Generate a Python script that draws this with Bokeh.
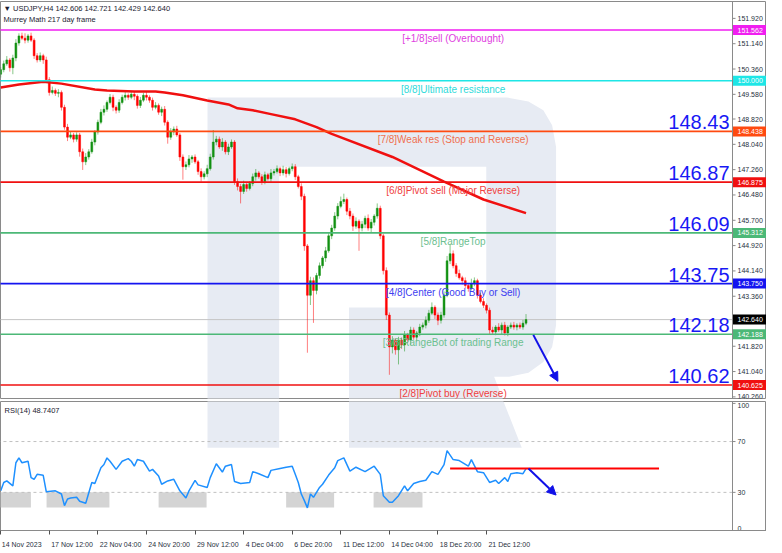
from bokeh.plotting import figure
from bokeh.models import (Range1d, FixedTicker, Label, LabelSet, Arrow, NormalHead,
                          ColumnDataSource, Span, LinearAxis)
from bokeh.layouts import column
from bokeh.embed import file_html
from bokeh.resources import INLINE
from bokeh.core.properties import value

FONT = "Liberation Sans"

# ---------------- data ----------------
first_open = 150.20
close = [
    150.34, 150.52, 150.64, 150.40, 150.70, 151.16, 151.38, 151.31, 151.25, 151.38,
    151.25, 150.77, 150.64, 150.77, 150.64, 150.03, 149.64, 149.70, 149.61, 149.64,
    149.18, 148.57, 148.26, 148.33, 148.20, 148.33, 147.81, 147.50, 147.65, 147.81,
    148.11, 148.42, 148.72, 149.03, 149.12, 149.33, 149.49, 149.18, 149.09, 149.33,
    149.49, 149.55, 149.49, 149.58, 149.52, 149.24, 149.40, 149.55, 149.49, 149.40,
    149.18, 149.24, 149.03, 149.12, 148.72, 148.26, 148.42, 148.51, 148.33, 147.65,
    147.35, 147.41, 147.59, 147.65, 147.50, 147.20, 147.04, 147.13, 147.29, 147.65,
    148.11, 148.20, 147.96, 148.11, 147.81, 147.96, 148.11, 146.89, 146.74, 146.59,
    146.80, 146.68, 146.83, 147.04, 147.16, 147.04, 146.89, 147.10, 146.98, 147.16,
    147.20, 147.29, 147.16, 147.26, 147.14, 147.29, 147.35, 147.04, 146.74, 146.44,
    144.91, 143.39, 143.84, 143.54, 144.00, 144.30, 144.54, 144.76, 145.22, 145.46,
    145.83, 146.13, 146.28, 146.34, 145.98, 145.83, 145.52, 145.67, 145.46, 145.58,
    145.76, 145.46, 145.64, 145.83, 146.07, 145.22, 144.15, 142.78, 141.80, 142.01,
    141.71, 142.01, 141.86, 142.17, 142.01, 142.32, 142.10, 142.23, 142.41, 142.47,
    142.62, 142.84, 143.02, 142.78, 142.62, 142.78, 143.39, 144.45, 144.67, 144.30,
    144.06, 143.93, 143.84, 143.69, 143.60, 143.75, 143.84, 143.39, 143.20, 143.08,
    142.93, 142.32, 142.26, 142.41, 142.32, 142.47, 142.23, 142.41, 142.47, 142.41,
    142.47, 142.41, 142.53, 142.64,
]
upper_wick = [
    0.08, 0.10, 0.12, 0.06, 0.10, 0.12, 0.08, 0.10, 0.15, 0.06,
    0.10, 0.06, 0.08, 0.10, 0.06, 0.10, 0.08, 0.12, 0.06, 0.10,
    0.06, 0.08, 0.10, 0.12, 0.06, 0.08, 0.06, 0.10, 0.12, 0.08,
    0.10, 0.06, 0.08, 0.10, 0.12, 0.06, 0.10, 0.08, 0.06, 0.10,
    0.08, 0.12, 0.06, 0.10, 0.08, 0.06, 0.10, 0.08, 0.12, 0.06,
    0.08, 0.10, 0.06, 0.08, 0.10, 0.06, 0.12, 0.08, 0.10, 0.06,
    0.08, 0.10, 0.12, 0.06, 0.08, 0.06, 0.10, 0.08, 0.12, 0.10,
    0.37, 0.10, 0.08, 0.12, 0.06, 0.10, 0.08, 0.06, 0.10, 0.08,
    0.12, 0.06, 0.08, 0.10, 0.12, 0.06, 0.08, 0.10, 0.06, 0.12,
    0.08, 0.10, 0.06, 0.12, 0.08, 0.06, 0.10, 0.08, 0.06, 0.10,
    0.08, 0.06, 0.12, 0.10, 0.08, 0.10, 0.06, 0.12, 0.08, 0.10,
    0.12, 0.10, 0.15, 0.18, 0.06, 0.10, 0.08, 0.12, 0.06, 0.10,
    0.08, 0.12, 0.10, 0.06, 0.15, 0.08, 0.06, 0.10, 0.08, 0.12,
    0.06, 0.10, 0.08, 0.12, 0.06, 0.10, 0.08, 0.06, 0.10, 0.08,
    0.12, 0.10, 0.15, 0.06, 0.08, 0.10, 0.12, 0.15, 0.30, 0.10,
    0.08, 0.12, 0.06, 0.10, 0.08, 0.15, 0.10, 0.06, 0.08, 0.10,
    0.06, 0.08, 0.10, 0.06, 0.12, 0.08, 0.10, 0.06, 0.08, 0.10,
    0.06, 0.08, 0.10, 0.17,
]
lower_wick = [
    0.10, 0.08, 0.06, 0.12, 0.20, 0.10, 0.08, 0.06, 0.10, 0.08,
    0.06, 0.10, 0.08, 0.06, 0.12, 0.08, 0.10, 0.06, 0.08, 0.12,
    0.10, 0.08, 0.12, 0.06, 0.10, 0.08, 0.15, 0.25, 0.10, 0.08,
    0.06, 0.10, 0.08, 0.06, 0.10, 0.08, 0.06, 0.12, 0.10, 0.08,
    0.06, 0.10, 0.08, 0.06, 0.12, 0.10, 0.08, 0.06, 0.10, 0.08,
    0.10, 0.06, 0.08, 0.12, 0.10, 0.20, 0.08, 0.10, 0.06, 0.12,
    0.40, 0.10, 0.08, 0.12, 0.06, 0.10, 0.15, 0.08, 0.10, 0.06,
    0.08, 0.10, 0.06, 0.12, 0.08, 0.10, 0.06, 0.10, 0.12, 0.37,
    0.08, 0.10, 0.06, 0.08, 0.12, 0.06, 0.10, 0.08, 0.06, 0.10,
    0.08, 0.06, 0.10, 0.08, 0.12, 0.06, 0.08, 0.10, 0.06, 0.12,
    0.15, 1.77, 0.30, 1.00, 0.12, 0.10, 0.08, 0.12, 0.06, 0.10,
    0.08, 0.10, 0.06, 0.08, 0.12, 0.10, 0.15, 0.08, 0.70, 0.10,
    0.12, 0.08, 0.15, 0.10, 0.08, 0.10, 0.12, 0.15, 0.86, 0.20,
    0.15, 0.45, 0.12, 0.20, 0.10, 0.15, 0.08, 0.12, 0.10, 0.08,
    0.10, 0.08, 0.06, 0.12, 0.15, 0.10, 0.08, 0.06, 0.10, 0.08,
    0.10, 0.06, 0.12, 0.08, 0.10, 0.06, 0.08, 0.10, 0.06, 0.08,
    0.10, 0.12, 0.08, 0.10, 0.06, 0.15, 0.08, 0.10, 0.06, 0.08,
    0.10, 0.06, 0.08, 0.06,
]

ma_bar = [0, 6, 14, 20, 31, 35, 44, 51, 54, 60, 68, 75, 78, 83, 89, 97, 104, 109, 129, 146, 159, 173]
ma_val = [149.79, 149.88, 149.97, 149.91, 149.73, 149.70, 149.67, 149.67, 149.64, 149.55, 149.39,
          149.27, 149.15, 149.09, 148.97, 148.81, 148.57, 148.36, 147.65, 146.89, 146.34, 145.92]

rsi_bar = [0, 1, 2, 4, 5, 6, 7, 9, 10, 11, 12, 14, 15, 18, 20, 21, 22, 23, 25, 26,
           28, 30, 31, 33, 34, 35, 36, 38, 40, 42, 43, 44, 45, 47, 49, 50, 52, 53, 55, 57,
           59, 61, 62, 64, 65, 68, 69, 71, 73, 74, 76, 77, 79, 82, 83, 85, 88, 89, 92, 94,
           96, 97, 98, 99, 100, 101, 102, 103, 105, 106, 108, 110, 111, 113, 115, 117, 120, 123, 125, 126,
           128, 129, 131, 133, 134, 136, 138, 140, 142, 144, 146, 147, 149, 151, 154, 155, 157, 159, 161, 163,
           164, 166, 167, 168, 170, 172, 173]
rsi_val = [31.2, 37.8, 39.0, 35.1, 53.3, 57.1, 53.3, 54.5, 41.6, 40.3, 44.2, 43.4, 30.5, 31.2, 28.7, 19.6, 24.8, 25.6, 26.1, 23.0,
           21.5, 37.8, 37.0, 49.4, 51.9, 57.1, 54.5, 48.1, 54.5, 56.6, 54.5, 50.6, 55.8, 54.5, 46.7, 48.1, 42.9, 36.4, 39.0, 40.3,
           31.2, 25.6, 31.2, 39.5, 35.9, 33.9, 41.6, 52.5, 46.0, 50.6, 51.9, 38.5, 37.0, 37.8, 46.3, 44.7, 41.6, 47.3, 48.8, 49.8,
           50.6, 44.2, 37.8, 28.7, 23.5, 17.8, 28.7, 26.1, 33.9, 36.4, 43.6, 49.4, 55.0, 57.1, 46.7, 49.8, 46.3, 50.6, 44.2, 27.4,
           22.2, 22.2, 27.4, 35.1, 31.2, 37.0, 38.5, 39.5, 46.3, 44.2, 51.9, 62.8, 55.8, 55.0, 50.6, 55.8, 46.3, 45.5, 37.8, 39.5,
           37.0, 41.6, 38.5, 44.7, 45.5, 44.7, 48.74]

level_names = ["[+1/8]sell (Overbought)", "[8/8]Ultimate resistance", "[7/8]Weak res (Stop and Reverse)",
               "[6/8]Pivot sell (Major Reverse)", "[5/8]RangeTop", "[4/8]Center (Good Buy or Sell)",
               "[3/8]RangeBot of trading Range", "[2/8]Pivot buy (Reverse)"]
level_values = [151.562, 150.000, 148.438, 146.875, 145.312, 143.750, 142.188, 140.625]
level_colors = ["#f01ef0", "#1ee6e6", "#ff4a10", "#f01010", "#4cb877", "#1414f0", "#4cb877", "#f01010"]
level_text_colors = ["#e040e0", "#30dada", "#f07050", "#f04040", "#6cc090", "#4040f0", "#6cc090", "#f04040"]

target_text = ["148.43", "146.87", "146.09", "143.75", "142.18", "140.62"]
target_level = [148.438, 146.875, 145.312, 143.750, 142.188, 140.625]
last_price = 142.640

price_ticks = [151.920, 151.140, 150.360, 149.580, 148.820, 148.040, 147.260, 146.480,
               145.700, 144.920, 144.140, 143.360, 141.820, 141.040, 140.260]
time_tick_bars = [0, 16, 32, 48, 64, 80, 96, 112, 128, 144, 160]
time_tick_labels = ["14 Nov 2023", "17 Nov 12:00", "22 Nov 04:00", "24 Nov 20:00", "29 Nov 12:00",
                    "4 Dec 04:00", "6 Dec 20:00", "11 Dec 12:00", "14 Dec 04:00", "18 Dec 20:00", "21 Dec 12:00"]
rsi_ticks = [0, 30, 70, 100]
rsi_levels = [30, 70]
rsi_box_start = [-0.1, 15.1, 52.0, 94.0, 122.8]
rsi_box_end = [9.95, 35.8, 67.8, 109.8, 138.9]
rsi_box_top, rsi_box_bottom = 30.0, 18.0
rsi_now = 48.74
rsi_line_start, rsi_line_end = 148.0, 216.8
price_arrow = [175.4, 142.17, 183.5, 140.74]
rsi_arrow = [173.8, 48.74, 182.9, 27.9]

# watermark ("R" logo) outline, in bar units and in each panel's value units
wm_x = [68.1, 166.7, 173.8, 178.7, 181.6, 182.9, 182.9, 181.6, 178.7, 173.8, 167.4, 162.5,
        171.6, 114.7, 114.7, 159.9, 159.9, 91.7, 91.7, 68.1]
wm_y_price = [149.484, 149.484, 149.361, 149.087, 148.629, 147.958, 142.465, 141.794, 141.336,
              141.000, 140.878, 140.878, 138.70, 138.70, 143.014, 143.014, 147.347, 147.347,
              138.70, 138.70]
wm_y_rsi = [338.8, 338.8, 335.6, 328.7, 317.1, 300.0, 160.4, 143.4, 131.8, 123.3, 120.2, 120.2,
            65.1, 65.1, 174.4, 174.4, 284.5, 284.5, 65.1, 65.1]

# ---------------- layout constants ----------------
BULL, BEAR = "#129112", "#ff0000"
WM = "#e7ebf3"
AXC = "#8a8a8a"
LBL = "#283040"
W = 766
CHART_PX = 732
X0 = -0.07
CHART_END = 241.0
PXB = CHART_PX / (CHART_END - X0)
XR_END = CHART_END + (W - CHART_PX) / PXB
BOXC = (CHART_END + XR_END) / 2
BOXW = XR_END - CHART_END
MH, RH = 397, 129

# ---------------- candles ----------------
n = len(close)
bars = list(range(n))
opens = [first_open] + close[:-1]
highs = [max(o, c) + w for o, c, w in zip(opens, close, upper_wick)]
lows = [min(o, c) - w for o, c, w in zip(opens, close, lower_wick)]
cols = [BULL if c >= o else BEAR for o, c in zip(opens, close)]
btop = [max(o, c) for o, c in zip(opens, close)]
bbot = [min(o, c) for o, c in zip(opens, close)]
btop = [t if t - b > 0.02 else b + 0.02 for t, b in zip(btop, bbot)]
src = ColumnDataSource(dict(x=bars, hi=highs, lo=lows, top=btop, bot=bbot, c=cols))

xr = Range1d(X0, XR_END)

p = figure(frame_width=W, frame_height=MH, x_range=xr, y_range=Range1d(140.21, 152.44),
           output_backend="svg", toolbar_location=None, x_axis_location=None,
           y_axis_location=None, min_border_left=0, min_border_right=0,
           min_border_top=1, min_border_bottom=1)
p.xgrid.visible = False
p.ygrid.visible = False
p.outline_line_color = AXC
p.background_fill_color = "white"

p.patch(wm_x, wm_y_price, fill_color=WM, line_color=None, level="underlay")

p.segment(x0=[X0 - 1], y0=[last_price], x1=[CHART_END], y1=[last_price], line_color="#c4c4c4", line_width=1)

p.segment(x0="x", y0="lo", x1="x", y1="hi", line_color="c", line_alpha=0.5, line_width=1, source=src)
p.vbar(x="x", width=0.62, top="top", bottom="bot", fill_color="c", line_color="c", line_width=0.5, source=src)

p.line(ma_bar, ma_val, line_color="#f01010", line_width=2.5)

nl = len(level_values)
p.segment(x0=[X0 - 1] * nl, y0=level_values, x1=[CHART_END] * nl, y1=level_values,
          line_color=level_colors, line_width=1.6)

lsrc = ColumnDataSource(dict(x=[149.0] * nl, y=level_values, t=level_names, c=level_text_colors))
p.add_layout(LabelSet(x="x", y="y", text="t", source=lsrc, text_color="c", text_align="center",
                      text_baseline="top", y_offset=-3, text_font=value(FONT), text_font_size="10px"))

for t, lv in zip(target_text, target_level):
    p.add_layout(Label(x=CHART_END, y=lv, text=t, text_align="right", text_baseline="bottom",
                       x_offset=-3, y_offset=2, text_color="#1818f5", text_font=FONT,
                       text_font_size="20px"))

p.add_layout(Arrow(end=NormalHead(size=9, fill_color="#1010e8", line_color="#1010e8"),
                   x_start=price_arrow[0], y_start=price_arrow[1], x_end=price_arrow[2], y_end=price_arrow[3],
                   line_color="#1010e8", line_width=2))

# price scale drawn in the right strip
nt = len(price_ticks)
p.segment(x0=[CHART_END] * nt, y0=price_ticks, x1=[CHART_END + 3 / PXB] * nt, y1=price_ticks,
          line_color=AXC, line_width=1)
p.text(x=[CHART_END] * nt, y=price_ticks, text=[f"{v:.3f}" for v in price_ticks], x_offset=5,
       text_align="left", text_baseline="middle", text_font=value(FONT), text_font_size="7px",
       text_color=LBL)
box_vals = level_values + [last_price]
box_cols = level_colors + ["#000000"]
p.rect(x=[BOXC] * len(box_vals), y=box_vals, width=BOXW, height=10, height_units="screen",
       fill_color=box_cols, line_color=None)
p.text(x=[CHART_END] * len(box_vals), y=box_vals, text=[f"{v:.3f}" for v in box_vals], x_offset=5,
       text_align="left", text_baseline="middle", text_font=value(FONT), text_font_size="7px",
       text_color="white")
p.add_layout(Span(location=CHART_END, dimension="height", line_color=AXC, line_width=1))

p.add_layout(Label(x=3, y=MH - 2, x_units="screen", y_units="screen",
                   text="\u25bc USDJPY,H4  142.606 142.721 142.429 142.640", text_baseline="top",
                   text_font=FONT, text_font_size="7.5px", text_color="#1a1a30"))
p.add_layout(Label(x=3, y=MH - 13, x_units="screen", y_units="screen",
                   text="Murrey Math 217 day frame", text_baseline="top",
                   text_font=FONT, text_font_size="7.5px", text_color="#1a1a30"))

# ---------------- RSI panel ----------------
r = figure(frame_width=W, frame_height=RH, x_range=xr, y_range=Range1d(0, 101.5),
           output_backend="svg", toolbar_location=None, y_axis_location=None,
           x_axis_location="below", min_border_left=0, min_border_right=0,
           min_border_top=2, min_border_bottom=0)
r.xgrid.visible = False
r.ygrid.visible = False
r.outline_line_color = AXC

r.patch(wm_x, wm_y_rsi, fill_color=WM, line_color=None, level="underlay")

r.quad(left=rsi_box_start, right=rsi_box_end, top=[rsi_box_top] * len(rsi_box_start),
       bottom=[rsi_box_bottom] * len(rsi_box_start), fill_color="#d4d4d4", line_color=None)
r.segment(x0=[X0 - 1] * len(rsi_levels), y0=rsi_levels, x1=[CHART_END] * len(rsi_levels), y1=rsi_levels,
          line_color="#c0c0c0", line_dash="3 3", line_width=1)

r.line(rsi_bar, rsi_val, line_color="#1e90ff", line_width=1.5)
r.segment(x0=[rsi_line_start], y0=[rsi_now], x1=[rsi_line_end], y1=[rsi_now], line_color="#ff0000", line_width=2)
r.add_layout(Arrow(end=NormalHead(size=9, fill_color="#1010e8", line_color="#1010e8"),
                   x_start=rsi_arrow[0], y_start=rsi_arrow[1], x_end=rsi_arrow[2], y_end=rsi_arrow[3],
                   line_color="#1010e8", line_width=2))

nr = len(rsi_ticks)
r.segment(x0=[CHART_END] * nr, y0=rsi_ticks, x1=[CHART_END + 3 / PXB] * nr, y1=rsi_ticks,
          line_color=AXC, line_width=1)
r.text(x=[CHART_END] * nr, y=rsi_ticks, text=[str(v) for v in rsi_ticks], x_offset=5,
       text_align="left", text_baseline=["bottom", "middle", "middle", "top"],
       text_font=value(FONT), text_font_size="7px", text_color=LBL)
r.add_layout(Span(location=CHART_END, dimension="height", line_color=AXC, line_width=1))

r.add_layout(Label(x=4, y=RH - 4, x_units="screen", y_units="screen", text="RSI(14) 48.7407",
                   text_baseline="top", text_font=FONT, text_font_size="7.5px", text_color="#1a1a30"))

# time axis: tick marks at the bar positions, labels set to the right of each tick
rx = r.xaxis[0]
rx.ticker = FixedTicker(ticks=time_tick_bars)
rx.major_label_overrides = {b: "" for b in time_tick_bars}
rx.major_label_text_font_size = "1px"
rx.major_label_standoff = 0
rx.axis_line_color = AXC
rx.major_tick_line_color = "#505050"
rx.major_tick_in = 0
rx.major_tick_out = 4
rx.minor_tick_line_color = None

lab_pos = [round(b + (len(t) * 3.45 / 2 + 2) / PXB, 3) for b, t in zip(time_tick_bars, time_tick_labels)]
lab_axis = LinearAxis(ticker=FixedTicker(ticks=lab_pos),
                      major_label_overrides=dict(zip(lab_pos, time_tick_labels)),
                      axis_line_color=None, major_tick_line_color=None, minor_tick_line_color=None,
                      major_label_standoff=0, major_label_text_font=FONT,
                      major_label_text_font_size="7px", major_label_text_color=LBL)
r.add_layout(lab_axis, "below")

layout = column(p, r, spacing=0)
open("out.html", "w").write(file_html(layout, INLINE))
